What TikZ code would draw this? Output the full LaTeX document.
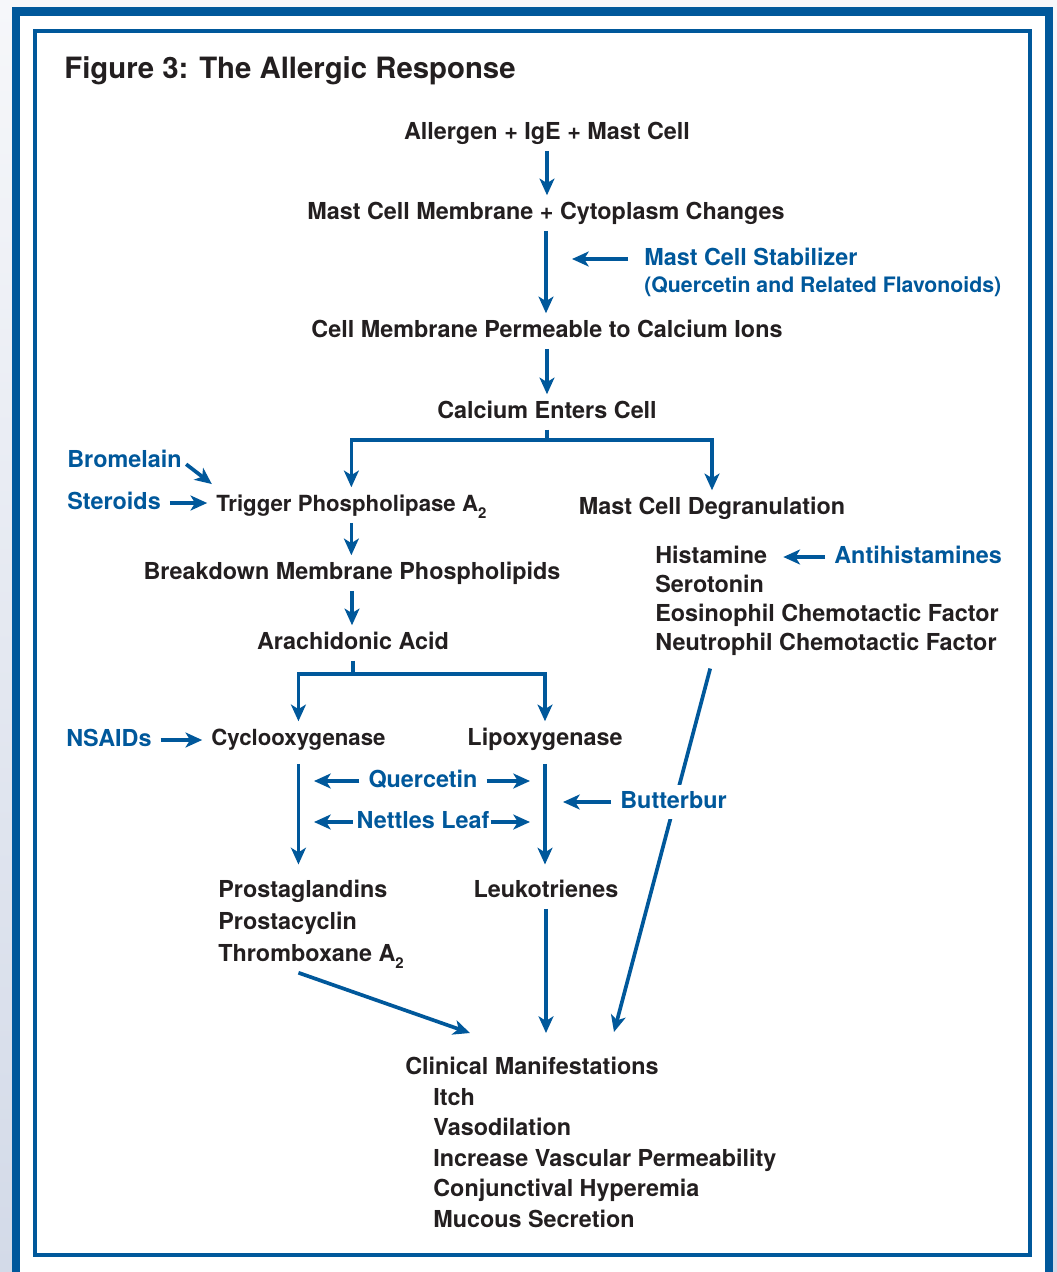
\documentclass[tikz,border=0pt]{standalone}
\usepackage{fontspec}
\setmainfont{TeX Gyre Heros}
\usetikzlibrary{arrows.meta}
\definecolor{figblue}{HTML}{00589B}
\definecolor{ink}{HTML}{231F20}
\definecolor{bgtop}{HTML}{F6F7FA}
\definecolor{bgbot}{HTML}{D3DAE8}
\newcommand{\subtwo}{\raisebox{-4pt}{\fontsize{8.5}{8.5}\selectfont 2}}

\begin{document}
\begin{tikzpicture}[x=0.02cm,y=-0.02cm]
		\begin{scope}
		
		\tikzstyle{mytext}=[text=ink,
		font=\bfseries\fontsize{13.3}{16}\selectfont,
		inner xsep=0pt,
		inner ysep=4pt,
		text height=9.5pt,
		text depth=2.3pt
		]
		\tikzstyle{mytextnarrow}=[mytext,
		font=\bfseries\fontsize{12.65}{16}\selectfont
		]
		\tikzstyle{mytextblue}=[mytext,
		text=figblue
		]
		\tikzstyle{myarrow}=[draw=figblue,
		line width=2.1pt,
		-{Stealth[length=9.5pt,width=8.5pt,inset=2.6pt]}
		]
		\tikzstyle{hgap}=[shorten <=5pt,
		shorten >=5pt
		]
		
		\useasboundingbox (0,0) rectangle (1057,1272);
		\shade[top color=bgtop, bottom color=bgbot] (0,0) rectangle (1057,1272);
		\draw[figblue, line width=4.6pt, fill=white] (16,11.5) rectangle (1049,1276);
		\draw[figblue, line width=2.6pt] (35,31) rectangle (1030,1255);
		
		\node[mytext, anchor=west, font=\bfseries\fontsize{16.7}{20}\selectfont, text height=12pt] (t1) at (64,70) {Figure 3: The Allergic Response};
		
		% main chain
		\node[mytext] (m1) at (547,133) {Allergen + IgE + Mast Cell};
		\node[mytext] (m2) at (546,213) {Mast Cell Membrane + Cytoplasm Changes};
		\node[mytext] (m3) at (547,331) {Cell Membrane Permeable to Calcium Ions};
		\node[mytext] (m4) at (547,412) {Calcium Enters Cell};
		\node[mytextnarrow, anchor=west] (m5) at (216,505) {Trigger Phospholipase A\subtwo};
		\node[mytext] (m6) at (712,508) {Mast Cell Degranulation};
		\node[mytext] (m7) at (352,573) {Breakdown Membrane Phospholipids};
		\node[mytext] (m8) at (353,643) {Arachidonic Acid};
		\node[mytextnarrow, anchor=west] (m9) at (211,739) {Cyclooxygenase};
		\node[mytext] (m10) at (545,739) {Lipoxygenase};
		\node[mytext] (m11) at (546,891) {Leukotrienes};
		
		% lists
		\node[mytext, anchor=west] (h1) at (655,557) {Histamine};
		\node[mytext, anchor=west] (h2) at (655,586) {Serotonin};
		\node[mytext, anchor=west] (h3) at (655,615) {Eosinophil Chemotactic Factor};
		\node[mytext, anchor=west] (h4) at (655,644) {Neutrophil Chemotactic Factor};
		
		\node[mytext, anchor=west] (p1) at (218,891) {Prostaglandins};
		\node[mytext, anchor=west] (p2) at (218,923) {Prostacyclin};
		\node[mytext, anchor=west] (p3) at (218,955) {Thromboxane A\subtwo};
		
		\node[mytext, anchor=west] (c0) at (405,1068) {Clinical Manifestations};
		\node[mytext, anchor=west] (c1) at (433,1099) {Itch};
		\node[mytext, anchor=west] (c2) at (433,1129) {Vasodilation};
		\node[mytext, anchor=west] (c3) at (433,1160) {Increase Vascular Permeability};
		\node[mytext, anchor=west] (c4) at (433,1190) {Conjunctival Hyperemia};
		\node[mytext, anchor=west] (c5) at (433,1221) {Mucous Secretion};
		
		% free ends
		\coordinate (e1) at (470,1033);
		\coordinate (e2) at (546,1033);
		\coordinate (e3) at (614,1032);
		\coordinate (e4) at (572,259);
		\coordinate (e5) at (314,781);
		\coordinate (e6) at (530,781);
		\coordinate (e7) at (314,822);
		\coordinate (e8) at (530,822);
		\coordinate (e9) at (563,802);
		
		\draw[myarrow] (m1.south) -- (m1.south |- m2.north);
		\draw[myarrow] (m2.south) -- (m2.south |- m3.north);
		\draw[myarrow] (m3.south) -- (m3.south |- m4.north);
		\draw[myarrow] (m4.south) -- ++(0,10) -| (m5.north);
		\draw[myarrow] (m4.south) -- ++(0,10) -| (m6.north);
		\draw[myarrow] (m5.south) -- (m5.south |- m7.north);
		\draw[myarrow] (m7.south) -- (m7.south |- m8.north);
		\draw[myarrow] (m8.south) -- ++(0,13) -| (m9.north);
		\draw[myarrow] (m8.south) -- ++(0,13) -| (m10.north);
		\draw[myarrow, shorten <=4pt, shorten >=5pt] (m9.south) -- (m9.south |- p1.north);
		\draw[myarrow, shorten <=4pt, shorten >=5pt] (m10.south) -- (m10.south |- m11.north);
		\draw[myarrow] (m11.south) -- (e2);
		\draw[myarrow] (p3.south -| m9.south) -- (e1);
		\draw[myarrow, shorten <=4pt] (h4.south -| m6.south) -- (e3);
		
		% blockers
		\node[mytextblue, anchor=west] (b1) at (644,259) {Mast Cell Stabilizer};
		\node[mytextblue, anchor=west, font=\bfseries\fontsize{12.1}{16}\selectfont] (b1a) at (644,286) {(Quercetin and Related Flavonoids)};
		\node[mytextblue, anchor=west] (b2) at (67,461) {Bromelain};
		\node[mytextblue, anchor=west] (b3) at (67,503) {Steroids};
		\node[mytextblue, anchor=west] (b4) at (66,740) {NSAIDs};
		\node[mytextblue, anchor=west] (b5) at (834,557) {Antihistamines};
		\node[mytextblue] (b6) at (423,781) {Quercetin};
		\node[mytextblue] (b7) at (423,822) {Nettles Leaf};
		\node[mytextblue, anchor=west, fill=white] (b8) at (620,802) {Butterbur};
		
		\draw[myarrow, shorten <=9pt] (b1.west) -- (e4);
		\draw[myarrow, shorten <=3pt, shorten >=3pt] (b2.east) -- (m5.north west);
		\draw[myarrow, hgap] (b3.east) -- (b3.east -| m5.west);
		\draw[myarrow, hgap] (b4.east) -- (b4.east -| m9.west);
		\draw[myarrow, hgap, shorten >=9pt] (b5.west) -- (b5.west -| h1.east);
		\draw[myarrow, shorten <=5pt] (b6.west) -- (e5);
		\draw[myarrow, shorten <=5pt] (b6.east) -- (e6);
		\draw[myarrow, shorten <=2pt] (b7.west) -- (e7);
		\draw[myarrow, shorten <=0.5pt] (b7.east) -- (e8);
		\draw[myarrow, shorten <=5pt] (b8.west) -- (e9);
		
		\end{scope}
\end{tikzpicture}
\end{document}
